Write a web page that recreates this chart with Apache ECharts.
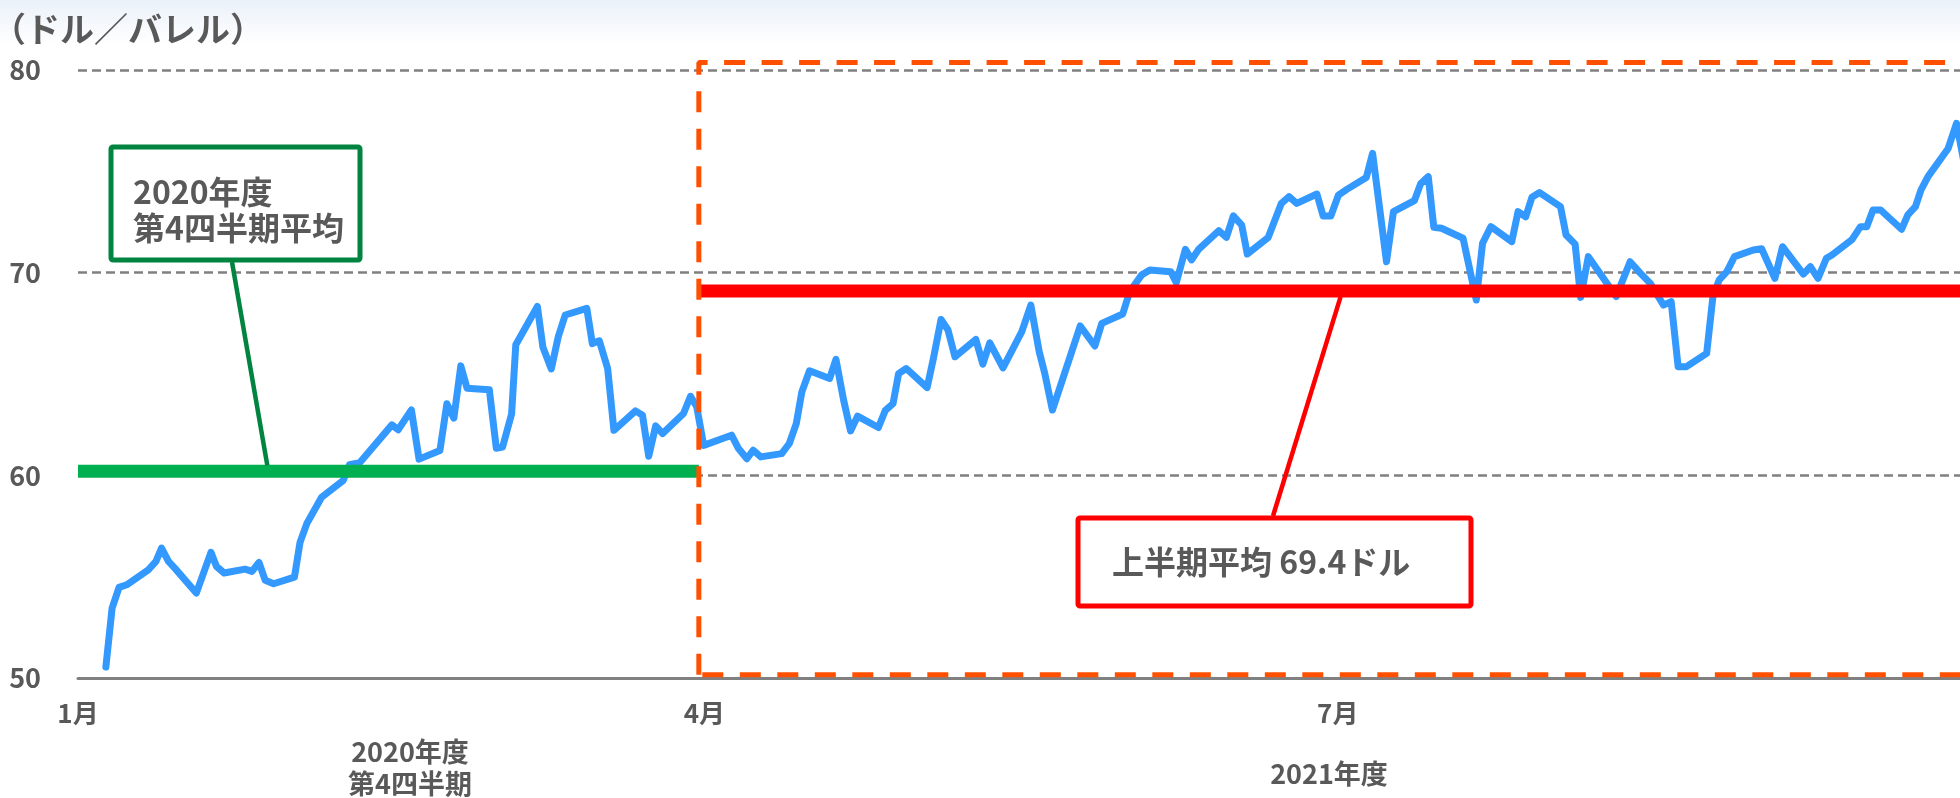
<!DOCTYPE html>
<html><head><meta charset="utf-8">
<script src="https://cdn.jsdelivr.net/npm/echarts@6/dist/echarts.min.js"></script>
<style>html,body{margin:0;padding:0;background:#fff}#c{width:1960px;height:798px}</style>
</head><body><div id="c"></div>
<script>
// ---- data (x = days since 1 January 2021, y = USD/bbl) ----
const days = [4.0,4.9,5.9,7.0,10.1,11.2,12.0,13.0,13.9,17.0,
19.1,19.9,21.0,24.0,25.0,26.0,26.9,28.1,31.1,31.9,
32.9,35.0,38.1,39.0,40.5,45.1,46.0,47.9,49.0,52.0,
53.0,54.0,55.0,55.9,59.1,60.1,61.0,62.3,62.9,66.0,
66.8,68.0,69.0,70.0,73.1,73.9,74.9,76.1,77.0,80.1,
81.1,82.0,83.0,84.0,87.0,88.0,88.9,89.9,93.9,94.9,
96.1,97.0,98.1,101.1,102.2,103.2,104.0,105.1,108.0,108.9,
110.0,111.0,112.0,115.0,116.0,117.1,117.9,119.0,122.0,122.9,
124.0,125.0,126.0,129.0,130.0,131.0,132.9,135.6,136.9,138.1,
138.9,140.0,144.0,146.1,147.1,150.1,151.1,152.8,154.0,157.0,
157.8,159.1,160.0,161.0,163.9,165.0,166.0,167.2,168.0,171.0,
172.9,174.0,175.1,178.0,178.9,180.0,181.1,182.3,185.1,186.0,
188.0,189.0,192.0,192.9,194.0,194.8,195.9,199.0,200.9,201.8,
203.0,206.0,206.9,208.0,208.9,210.0,213.0,213.8,215.1,215.9,
217.0,221.0,223.0,224.4,225.9,227.8,228.9,229.9,231.1,234.0,
234.9,235.8,236.9,238.0,240.7,241.9,243.8,244.9,247.9,248.9,
250.0,251.2,252.0,254.9,256.1,257.0,257.9,259.0,262.0,262.9,
264.0,264.8,265.8,268.7,269.9,271.0];
const prices = [50.54,53.45,54.47,54.6,55.34,55.75,56.41,55.75,55.42,54.19,
56.2,55.5,55.18,55.37,55.26,55.7,54.82,54.65,54.98,56.69,
57.64,58.92,59.75,60.52,60.63,62.49,62.25,63.23,60.8,61.23,
63.53,62.82,65.4,64.3,64.22,61.34,61.39,63.03,66.44,68.33,
66.32,65.25,66.84,67.91,68.24,66.5,66.64,65.27,62.22,63.18,
62.97,60.94,62.44,62.06,63.05,63.9,63.38,61.48,61.98,61.32,
60.82,61.24,60.91,61.07,61.57,62.55,64.12,65.16,64.78,65.72,
63.71,62.19,62.92,62.36,63.21,63.54,65.02,65.27,64.33,65.77,
67.69,67.17,65.85,66.7,65.49,66.54,65.3,67.09,68.4,66.1,
65.03,63.22,67.37,66.38,67.5,67.96,69.06,69.88,70.13,70.05,
69.51,71.15,70.63,71.15,72.07,71.74,72.8,72.35,70.92,71.74,
73.42,73.75,73.42,73.88,72.8,72.8,73.83,74.11,74.7,75.89,
70.54,73.01,73.55,74.38,74.74,72.24,72.19,71.7,68.65,71.45,
72.27,71.53,73.01,72.76,73.72,73.95,73.26,71.86,71.41,68.78,
70.79,68.82,70.54,70.0,69.47,68.4,68.57,65.36,65.36,66.02,
68.82,69.64,70.05,70.79,71.12,71.18,69.72,71.28,69.93,70.3,
69.72,70.71,70.87,71.64,72.27,72.27,73.09,73.09,72.14,72.85,
73.26,74.08,74.74,76.13,77.37,75.4];

const yMin = 50, yMax = 80, yStep = 10;
const xMaxDay = 270.4;
const monthTickDays = [0, 90, 181];
const monthTickLabels = ['1月', '4月', '7月'];

const q4AvgValue = 60.2;          // 2020年度 第4四半期平均 (line level)
const q4AvgDays = [0, 89.2];
const h1AvgValue = 69.1;          // 上半期平均 (line level)
const h1AvgDays = [89.2, xMaxDay];

const boxLeftDay = 89.2, boxRightDay = 290, boxTopValue = 80.37, boxBottomValue = 50.16;

const unitText = '（ドル／バレル）';
const q4CalloutText = '2020年度\n第4四半期平均';
const h1CalloutText = '上半期平均 69.4ドル';
const periodLabelQ4 = '2020年度\n第4四半期';
const periodLabelFY21 = '2021年度';
const q4LeaderDay = 27.2;
const h1LeaderDay = 181.4;

// ---- chart ----
const TXT = '#595959';
const FONT = '"Noto Sans CJK JP", "Noto Sans", sans-serif';
const chart = echarts.init(document.getElementById('c'), null, {renderer: 'canvas'});
const priceData = days.map((d, i) => [d, prices[i]]);
const orangeStyle = {color: '#FF5000', width: 5, type: [21, 16.5], cap: 'butt'};

const option = {
  animation: false,
  backgroundColor: '#ffffff',
  grid: {left: 78, right: 0, top: 70, bottom: 120, containLabel: false},
  xAxis: {
    type: 'value', min: 0, max: xMaxDay,
    axisLine: {show: true, onZero: false, lineStyle: {color: '#808080', width: 3}},
    axisTick: {show: false},
    splitLine: {show: false},
    axisLabel: {
      customValues: monthTickDays,
      formatter: v => monthTickLabels[monthTickDays.indexOf(v)] || '',
      color: TXT, fontSize: 26, fontWeight: 'bold', fontFamily: FONT, margin: 22
    }
  },
  yAxis: {
    type: 'value', min: yMin, max: yMax, interval: yStep,
    axisLine: {show: false}, axisTick: {show: false},
    splitLine: {show: true, lineStyle: {color: '#808080', width: 2.5, type: [9, 5]}},
    axisLabel: {color: TXT, fontSize: 27, fontWeight: 'bold', fontFamily: FONT, margin: 37}
  },
  series: [
    {type: 'line', data: priceData, symbol: 'none', z: 2,
     lineStyle: {color: '#3399FF', width: 7, cap: 'round', join: 'round'}},
    {type: 'line', data: q4AvgDays.map(d => [d, q4AvgValue]), symbol: 'none', z: 3,
     lineStyle: {color: '#00B050', width: 13, cap: 'butt'}},
    {type: 'line', data: h1AvgDays.map(d => [d, h1AvgValue]), symbol: 'none', z: 3,
     lineStyle: {color: '#FF0000', width: 13, cap: 'butt'}},
    {type: 'line', clip: false, symbol: 'none', z: 4,
     data: [[boxLeftDay, boxBottomValue], [boxLeftDay, boxTopValue], [boxRightDay, boxTopValue]],
     lineStyle: orangeStyle},
    {type: 'line', clip: false, symbol: 'none', z: 4,
     data: [[boxLeftDay + 0.5, boxBottomValue], [boxRightDay, boxBottomValue]],
     lineStyle: orangeStyle}
  ]
};
chart.setOption(option);

const q4Pt = chart.convertToPixel({gridIndex: 0}, [q4LeaderDay, q4AvgValue]);
const h1Pt = chart.convertToPixel({gridIndex: 0}, [h1LeaderDay, h1AvgValue]);

chart.setOption({
  graphic: [
    {type: 'rect', z: -10, silent: true, shape: {x: 0, y: 0, width: 1960, height: 44},
     style: {fill: new echarts.graphic.LinearGradient(0, 0, 0, 1, [
       {offset: 0, color: '#EAF1FA'}, {offset: 1, color: '#FFFFFF'}])}},
    {type: 'text', left: -8, top: 12, z: 10,
     style: {text: unitText, fill: TXT, font: 'bold 34px ' + FONT}},
    // green callout
    {type: 'line', z: 10, shape: {x1: 232, y1: 262, x2: q4Pt[0], y2: q4Pt[1] - 6},
     style: {stroke: '#00843F', lineWidth: 4.5}},
    {type: 'rect', z: 10, shape: {x: 111, y: 147, width: 249, height: 113, r: 2},
     style: {fill: '#fff', stroke: '#00843F', lineWidth: 5}},
    {type: 'text', z: 11, x: 133, y: 174,
     style: {text: q4CalloutText, fill: TXT, font: 'bold 32px ' + FONT, lineHeight: 36, verticalAlign: 'top'}},
    // red callout
    {type: 'line', z: 10, shape: {x1: 1273, y1: 516, x2: h1Pt[0], y2: h1Pt[1] + 6},
     style: {stroke: '#FF0000', lineWidth: 4.5}},
    {type: 'rect', z: 10, shape: {x: 1078, y: 518, width: 393, height: 88, r: 2},
     style: {fill: '#fff', stroke: '#FF0000', lineWidth: 5}},
    {type: 'text', z: 11, x: 1112, y: 562,
     style: {text: h1CalloutText, fill: TXT, font: 'bold 32px ' + FONT, verticalAlign: 'middle'}},
    // period labels
    {type: 'text', z: 10, x: 410, y: 736,
     style: {text: periodLabelQ4, fill: TXT, font: 'bold 27px ' + FONT, lineHeight: 32, align: 'center', verticalAlign: 'top'}},
    {type: 'text', z: 10, x: 1329, y: 774,
     style: {text: periodLabelFY21, fill: TXT, font: 'bold 27px ' + FONT, align: 'center', verticalAlign: 'middle'}}
  ]
});
</script></body></html>
